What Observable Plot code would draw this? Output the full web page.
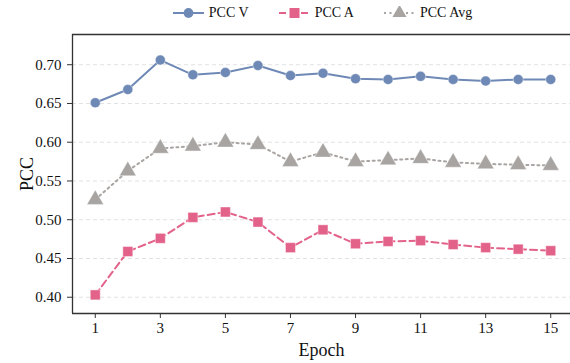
<!DOCTYPE html>
<html>
<head>
<meta charset="utf-8">
<script src="https://cdn.jsdelivr.net/npm/d3@7"></script>
<script src="https://cdn.jsdelivr.net/npm/@observablehq/plot@0.6"></script>
<style>
  html, body { margin: 0; padding: 0; background: #fff; overflow: hidden; }
  body { width: 570px; font-family: "Liberation Serif", "Times New Roman", serif; }
  #legend { height: 26px; display: flex; justify-content: center; align-items: center;
            padding-left: 72px; width: 501px; box-sizing: content-box; font-size: 14px; color: #111; }
  .item { display: flex; align-items: center; margin: 0 15px; }
  .item svg { margin-right: 5px; }
  #chart svg, #chart svg text { font-family: "Liberation Serif", "Times New Roman", serif !important; }
</style>
</head>
<body>
<div id="legend"></div>
<div id="chart"></div>
<script>
const epochs = [1,2,3,4,5,6,7,8,9,10,11,12,13,14,15];
const pccV   = [0.651,0.668,0.706,0.687,0.690,0.699,0.686,0.689,0.682,0.681,0.685,0.681,0.679,0.681,0.681];
const pccA   = [0.403,0.459,0.476,0.503,0.510,0.497,0.464,0.487,0.469,0.472,0.473,0.468,0.464,0.462,0.460];
const pccAvg = [0.526,0.563,0.592,0.595,0.600,0.597,0.575,0.587,0.575,0.577,0.579,0.574,0.572,0.571,0.570];
const xTicks = [1,3,5,7,9,11,13,15];
const yTicks = [0.40,0.45,0.50,0.55,0.60,0.65,0.70];

const series = [
  {name: "PCC V", values: pccV, color: "#6F89B6", dash: null, symbol: "circle", r: 5},
  {name: "PCC A", values: pccA, color: "#E3628A", dash: "7,4", symbol: "square", r: 5.6},
  {name: "PCC Avg", values: pccAvg, color: "#A8A4A2", dash: "2,3.5", symbol: "triangle", r: 6.2}
];
const rows = series.flatMap(s => s.values.map((v, i) => ({series: s.name, epoch: epochs[i], value: v})));

// Legend
const legend = document.getElementById("legend");
for (const s of series) {
  const item = document.createElement("div");
  item.className = "item";
  const sw = d3.create("svg").attr("width", 31).attr("height", 14);
  sw.append("line").attr("x1", 0).attr("x2", 31).attr("y1", 7).attr("y2", 7)
    .attr("stroke", s.color).attr("stroke-width", 2).attr("stroke-dasharray", s.dash);
  const sym = s.symbol === "circle" ? d3.symbolCircle : s.symbol === "square" ? d3.symbolSquare : d3.symbolTriangle;
  const size = s.symbol === "circle" ? 75 : s.symbol === "square" ? 100 : 85;
  sw.append("path").attr("d", d3.symbol(sym, size)()).attr("transform", "translate(15.5,7)")
    .attr("fill", s.color);
  item.appendChild(sw.node());
  const t = document.createElement("span");
  t.textContent = s.name;
  item.appendChild(t);
  legend.appendChild(item);
}

const font = "Liberation Serif";
const marks = [
  Plot.ruleY(yTicks, {stroke: "#e2e2e2", strokeDasharray: "4,3", strokeWidth: 1}),
  Plot.axisY(yTicks, {tickFormat: d3.format(".2f"), tickSize: 5, tickPadding: 6, fontSize: 15, label: null, fontFamily: font, stroke: "#333"}),
  Plot.axisY([], {label: "PCC", labelAnchor: "center", labelArrow: "none", labelOffset: 52, fontSize: 18, fontFamily: font}),
  Plot.axisX(xTicks, {tickSize: 5, tickPadding: 4, fontSize: 15, label: null, fontFamily: font, stroke: "#333"}),
  Plot.axisX([], {label: "Epoch", labelAnchor: "center", labelArrow: "none", labelOffset: 42, fontSize: 18, fontFamily: font}),
];
for (const s of series) {
  const data = rows.filter(d => d.series === s.name);
  marks.push(Plot.line(data, {x: "epoch", y: "value", stroke: s.color, strokeWidth: 2, strokeDasharray: s.dash}));
  marks.push(Plot.dot(data, {x: "epoch", y: "value", fill: s.color, symbol: s.symbol, r: s.r, stroke: "#fff", strokeOpacity: 0.5, strokeWidth: 0.8}));
}
marks.push(Plot.ruleX([0.3], {stroke: "#333", strokeWidth: 1.3}));
marks.push(Plot.ruleY([0.379, 0.739], {stroke: "#333", strokeWidth: 1.3}));

const chart = Plot.plot({
  width: 570,
  height: 337,
  marginTop: 8,
  marginBottom: 50,
  marginLeft: 72,
  marginRight: 0,
  style: {fontFamily: font, background: "#fff", color: "#111", overflow: "visible"},
  x: {domain: [0.3, 15.7], range: [72, 573]},
  y: {domain: [0.379, 0.739]},
  marks
});
document.getElementById("chart").appendChild(chart);
</script>
</body>
</html>
